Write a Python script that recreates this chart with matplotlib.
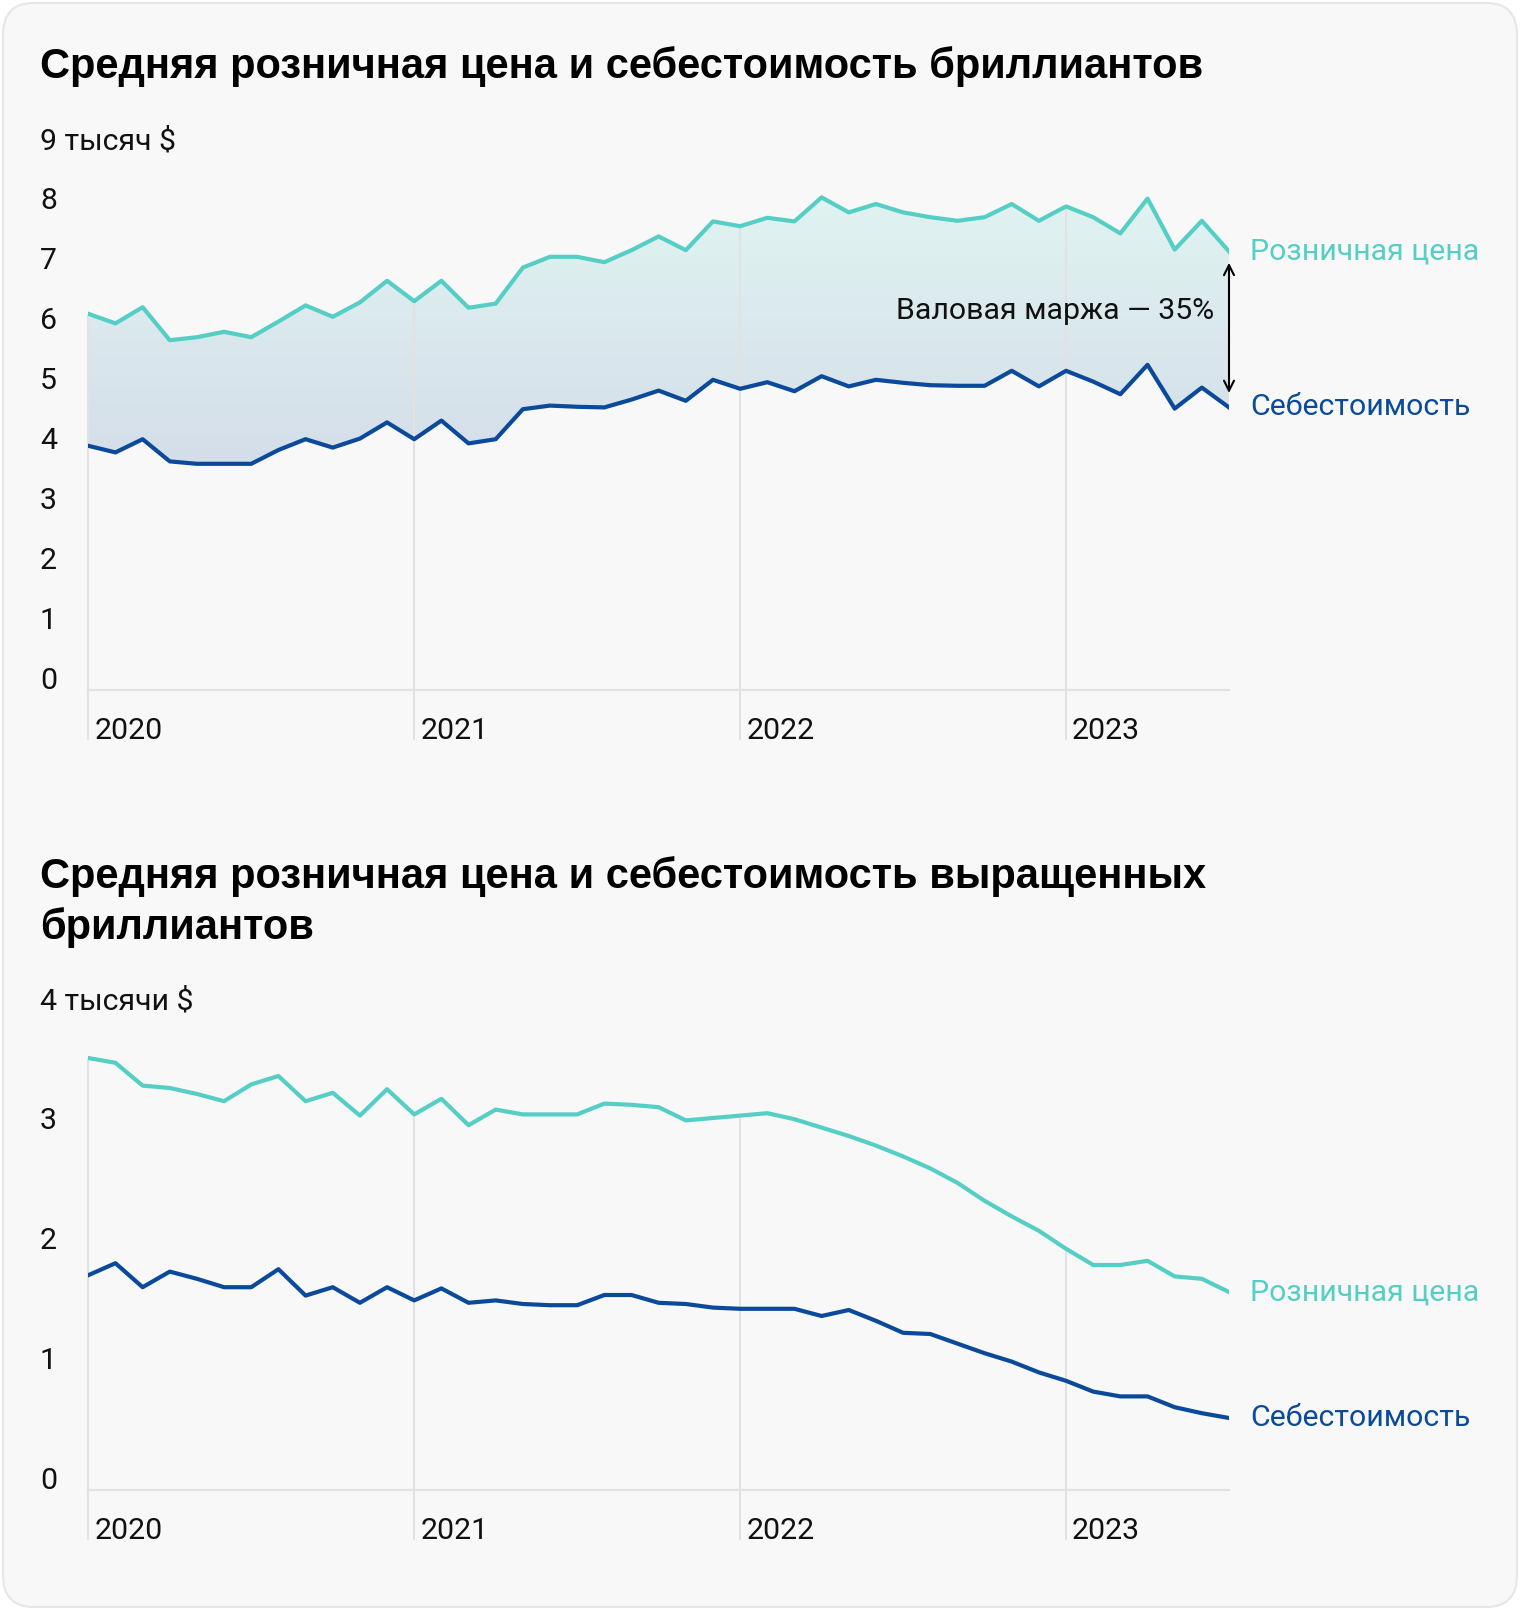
import matplotlib
matplotlib.use("Agg")
import matplotlib.pyplot as plt
import matplotlib.transforms as mtransforms
from matplotlib.colors import LinearSegmentedColormap
from matplotlib.patches import FancyBboxPatch
import numpy as np

# monthly data, Jan 2020 .. Jul 2023 (thousand $)
months = list(range(43))
years = ["2020", "2021", "2022", "2023"]
year_pos = [0, 12, 24, 36]

natural_retail = [6.27, 6.11, 6.38, 5.83, 5.88, 5.97, 5.88, 6.14, 6.41, 6.22, 6.46, 6.82,
                  6.48, 6.82, 6.37, 6.44, 7.04, 7.22, 7.22, 7.13, 7.33, 7.56, 7.33, 7.81,
                  7.73, 7.87, 7.81, 8.21, 7.96, 8.10, 7.96, 7.88, 7.82, 7.88, 8.10, 7.82,
                  8.06, 7.88, 7.61, 8.19, 7.34, 7.82, 7.31]
natural_cost = [4.07, 3.96, 4.18, 3.81, 3.77, 3.77, 3.77, 4.00, 4.18, 4.04, 4.19, 4.46,
                4.18, 4.49, 4.11, 4.18, 4.68, 4.74, 4.72, 4.71, 4.84, 4.99, 4.82, 5.17,
                5.02, 5.13, 4.98, 5.23, 5.06, 5.17, 5.12, 5.08, 5.07, 5.07, 5.32, 5.06,
                5.32, 5.14, 4.93, 5.42, 4.69, 5.04, 4.71]

lab_retail = [3.60, 3.56, 3.37, 3.35, 3.30, 3.24, 3.38, 3.45, 3.24, 3.31, 3.12, 3.34,
              3.13, 3.26, 3.04, 3.17, 3.13, 3.13, 3.13, 3.22, 3.21, 3.19, 3.08, 3.10,
              3.12, 3.14, 3.09, 3.02, 2.95, 2.87, 2.78, 2.68, 2.56, 2.41, 2.28, 2.16,
              2.01, 1.875, 1.875, 1.91, 1.78, 1.76, 1.65]
lab_cost = [1.79, 1.89, 1.69, 1.82, 1.76, 1.69, 1.69, 1.84, 1.62, 1.69, 1.56, 1.69,
            1.58, 1.68, 1.56, 1.58, 1.55, 1.54, 1.54, 1.625, 1.625, 1.56, 1.55, 1.52,
            1.51, 1.51, 1.51, 1.45, 1.50, 1.41, 1.31, 1.30, 1.22, 1.14, 1.07, 0.98,
            0.91, 0.82, 0.78, 0.78, 0.69, 0.64, 0.60]

top_ticks = [0, 1, 2, 3, 4, 5, 6, 7, 8, 9]
top_ticklabels = ["0", "1", "2", "3", "4", "5", "6", "7", "8", "9 тысяч $"]
bot_ticks = [0, 1, 2, 3, 4]
bot_ticklabels = ["0", "1", "2", "3", "4 тысячи $"]

TEAL = "#55cfc5"
BLUE = "#0b4a9b"
GRID = "#e2e2e2"
W, H = 1520, 1610
FS = 21.8  # regular text size

plt.rcParams["font.family"] = ["Roboto", "DejaVu Sans"]

fig = plt.figure(figsize=(W / 100, H / 100), dpi=100)
fig.patch.set_facecolor("white")
card = FancyBboxPatch((3 / W, 3 / H), (W - 6) / W, (H - 6) / H,
                      boxstyle="round,pad=0,rounding_size=0.02",
                      transform=fig.transFigure, facecolor="#f8f8f8",
                      edgecolor="#e6e6e6", linewidth=1.5, zorder=-10)
fig.patches.append(card)


def add_axes(x0, x1, y_zero, y_top):
    ax = fig.add_axes([x0 / W, 1 - y_zero / H, (x1 - x0) / W, (y_zero - y_top) / H])
    ax.set_zorder(1)
    return ax


def style(ax, ticks, ticklabels, ymax, retail, cost, grid_ext):
    ax.set_facecolor("none")
    for s in ax.spines.values():
        s.set_visible(False)
    ax.set_xticks([])
    ax.set_yticks([])
    ax.plot(months, retail, color=TEAL, lw=3.0, zorder=4)
    ax.plot(months, cost, color=BLUE, lw=3.0, zorder=4)
    ax.plot([months[0], months[-1]], [0, 0], color=GRID, lw=1.6, zorder=2, clip_on=False)
    for yp, yl in zip(year_pos, years):
        ax.vlines(yp, -grid_ext, retail[yp], color=GRID, lw=1.5, zorder=3, clip_on=False)
        ax.text(yp, 0, yl, fontsize=FS, color="#111111", ha="left", va="center",
                transform=mtransforms.offset_copy(ax.transData, fig=fig, x=6, y=-41, units="dots"))
    lab_tr = mtransforms.offset_copy(
        mtransforms.blended_transform_factory(fig.transFigure, ax.transData),
        fig=fig, x=0, y=9, units="dots")
    for t, tl in zip(ticks, ticklabels):
        ax.text(40 / W, t, tl, fontsize=FS, color="#111111", ha="left", va="center",
                transform=lab_tr, clip_on=False)
    end_tr = mtransforms.offset_copy(ax.transData, fig=fig, x=21, y=0, units="dots")
    ax.text(months[-1], retail[-1], "Розничная цена", color=TEAL, fontsize=FS,
            ha="left", va="center", transform=end_tr)
    ax.text(months[-1], cost[-1], "Себестоимость", color=BLUE, fontsize=FS,
            ha="left", va="center", transform=end_tr)
    ax.set_xlim(0, 42)
    ax.set_ylim(0, ymax)


# top chart
ax1 = add_axes(88.3, 1229, 690, 150)
poly = ax1.fill_between(months, natural_cost, natural_retail, color="none", lw=0)
cmap = LinearSegmentedColormap.from_list("g", ["#d4dde9", "#e0f4f1"])
grad = np.linspace(0, 1, 256).reshape(-1, 1)
im = ax1.imshow(grad, extent=[0, 42, 3.6, 8.3], origin="lower", aspect="auto",
                cmap=cmap, zorder=1)
im.set_clip_path(poly.get_paths()[0], transform=ax1.transData)
style(ax1, top_ticks, top_ticklabels, 9, natural_retail, natural_cost, 0.83)
ax1.annotate("", xy=(42, 4.95), xytext=(42, 7.12),
             arrowprops=dict(arrowstyle="<->", color="black", lw=1.5,
                             mutation_scale=18, shrinkA=0, shrinkB=0), zorder=5)
ax1.text(41.45, 6.32, "Валовая маржа — 35%", fontsize=FS, color="#111111",
         ha="right", va="center", zorder=5)

fig.text(40 / W, 1 - 67 / H, "Средняя розничная цена и себестоимость бриллиантов",
         fontsize=30, fontweight="bold", family=["Liberation Sans", "DejaVu Sans"],
         ha="left", va="center", color="black")

# bottom chart
ax2 = add_axes(88.3, 1229, 1490, 1010)
style(ax2, bot_ticks, bot_ticklabels, 4, lab_retail, lab_cost, 0.42)

fig.text(40 / W, 1 - 902 / H,
         "Средняя розничная цена и себестоимость выращенных\nбриллиантов",
         fontsize=30, fontweight="bold", family=["Liberation Sans", "DejaVu Sans"],
         ha="left", va="center", color="black", linespacing=1.29)

fig.savefig("out.png", dpi=100, facecolor=fig.get_facecolor())
